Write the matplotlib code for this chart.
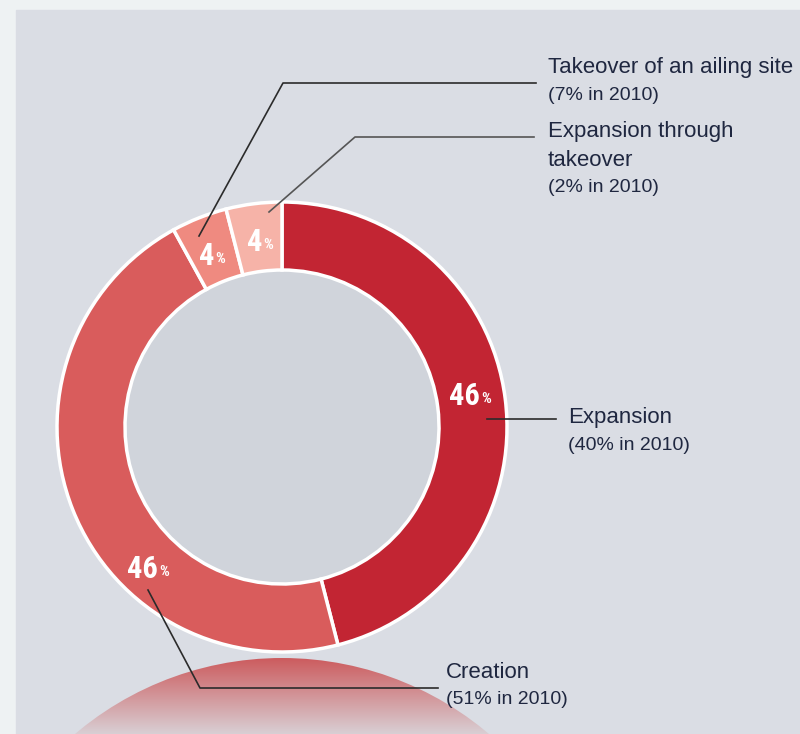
import numpy as np
import matplotlib
matplotlib.use("Agg")
import matplotlib.pyplot as plt
from matplotlib.patches import Rectangle, Circle
from matplotlib import font_manager

# ---------- data ----------
categories = ["Expansion", "Creation", "Takeover of an ailing site", "Expansion through takeover"]
shares = [46, 46, 4, 4]
shares_2010 = [40, 51, 7, 2]
colors = ["#c22533", "#d95c5c", "#ef8a80", "#f6b3a8"]

names = {f.name for f in font_manager.fontManager.ttflist}
label_fam = [f for f in ["Liberation Sans", "Arimo"] if f in names] + ["DejaVu Sans"]
pct_fam = [f for f in ["Roboto Condensed", "Archivo Narrow", "PT Sans Narrow"] if f in names] + ["DejaVu Sans"]
plt.rcParams["font.family"] = label_fam

W, H = 800, 734
fig = plt.figure(figsize=(8, 7.34), dpi=100, facecolor="#eef2f3")
ax = fig.add_axes([0, 0, 1, 1])


def Y(y):
    # pixel row (from top) -> data y
    return H - y


# panel background
ax.add_patch(Rectangle((16, 0), W - 16, Y(10), color="#dadde4", zorder=0))

# reddish reflection at bottom
t = np.linspace(0, 1, 100)[:, None]
top = np.array([0.80, 0.36, 0.37])
bot = np.array([0.85, 0.81, 0.83])
grad = np.ones((100, 2, 4))
grad[:, :, :3] = (top * (1 - t) + bot * t)[:, None, :]
im = ax.imshow(grad, extent=(40, 530, Y(734), Y(658)), origin="upper", aspect="auto", zorder=1)
im.set_clip_path(Circle((282, Y(978)), 320, transform=ax.transData))

# donut
cx, cy = 282, Y(427)
r_out, r_in = 225, 157
ax.pie(shares, colors=colors, startangle=90, counterclock=False, radius=r_out,
       center=(cx, cy), wedgeprops=dict(width=r_out - r_in, edgecolor="white", linewidth=2.5))
ax.add_patch(Circle((cx, cy), r_in - 1, color="#d0d4db", zorder=0.5))

# percentage labels
pct_pos = [(480, 396), (158, 569), (214, 256), (262, 242)]
for v, (x, y) in zip(shares, pct_pos):
    ax.text(x, Y(y), str(v), color="white", fontsize=22, fontweight="bold", family=pct_fam,
            ha="right", va="center", zorder=5)
    ax.text(x + 1, Y(y + 3), "%", color="white", fontsize=11, fontweight="bold", family=pct_fam,
            ha="left", va="center", zorder=5)

line_kw = dict(color="#2b2b2b", lw=1.2, zorder=4)
txt = "#1f2740"

# leader lines (pixel rows from top)
ax.plot([487, 556], [Y(419), Y(419)], **line_kw)
ax.plot([148, 200, 438], [Y(590), Y(688), Y(688)], **line_kw)
ax.plot([199, 283, 536], [Y(236), Y(83), Y(83)], **line_kw)
ax.plot([269, 355, 534], [Y(212), Y(137), Y(137)], color="#555555", lw=1.2, zorder=4)

# labels
labels = [
    (568, 418, [categories[0]]),
    (446, 672, [categories[1]]),
    (548, 68, [categories[2]]),
    (548, 131, ["Expansion through", "takeover"]),
]
for (x, y, lines), old in zip(labels, shares_2010):
    for i, ln in enumerate(lines):
        ax.text(x, Y(y + i * 29), ln, color=txt, fontsize=16, ha="left", va="center")
    ax.text(x, Y(y + len(lines) * 29 - 1), f"({old}% in 2010)", color=txt,
            fontsize=14, ha="left", va="center")

ax.set_xlim(0, W)
ax.set_ylim(0, H)
ax.set_aspect("auto")
ax.axis("off")

fig.savefig("out.png", dpi=100, facecolor=fig.get_facecolor())
